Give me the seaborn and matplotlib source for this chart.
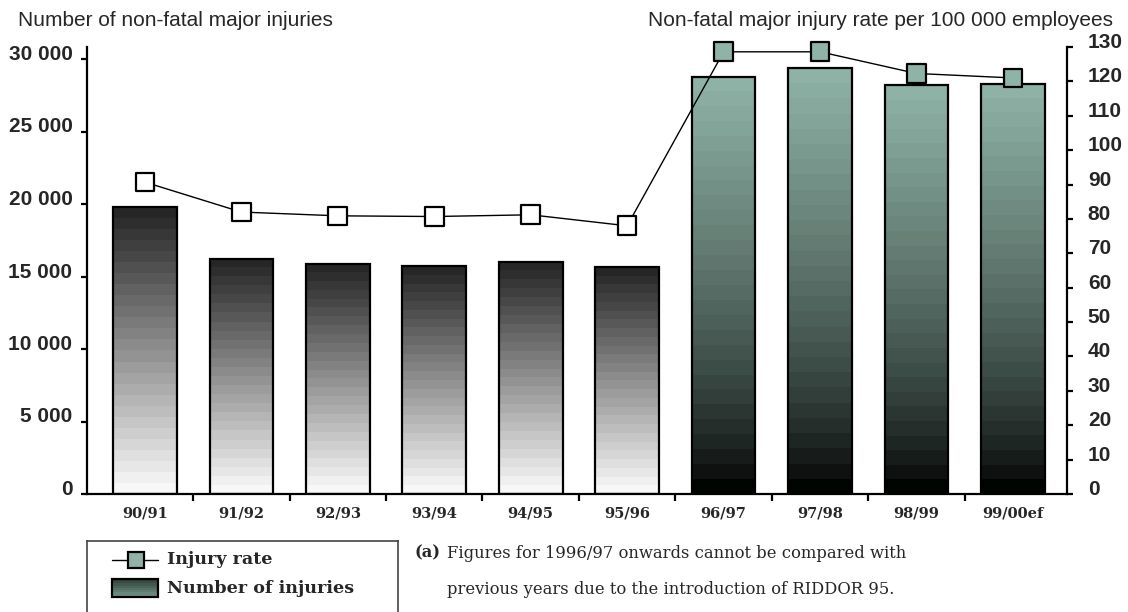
import numpy as np
import matplotlib
matplotlib.use("Agg")
import matplotlib.pyplot as plt
import seaborn as sns
import pandas as pd
from matplotlib.transforms import ScaledTranslation
from matplotlib.patches import Rectangle

# ---------------- data ----------------
years = ["90/91", "91/92", "92/93", "93/94", "94/95", "95/96",
         "96/97", "97/98", "98/99", "99/00ef"]
injuries = [19790, 16230, 15880, 15720, 16020, 15630, 28780, 29360, 28200, 28300]
rates = [90.7, 82.0, 80.9, 80.7, 81.2, 78.0, 128.6, 128.6, 122.3, 121.0]
period = ["pre", "pre", "pre", "pre", "pre", "pre", "post", "post", "post", "post"]
left_ticks = [0, 5000, 10000, 15000, 20000, 25000, 30000]
left_labels = ["0", "5 000", "10 000", "15 000", "20 000", "25 000", "30 000"]
right_ticks = [0, 10, 20, 30, 40, 50, 60, 70, 80, 90, 100, 110, 120, 130]
left_title = "Number of non-fatal major injuries"
right_title = "Non-fatal major injury rate per 100 000 employees"
legend_labels = ["Injury rate", "Number of injuries"]
note_lines = ["Figures for 1996/97 onwards cannot be compared with",
              "previous years due to the introduction of RIDDOR 95."]

df = pd.DataFrame({"year": years, "injuries": injuries, "rate": rates,
                   "period": period, "pos": np.arange(len(years))})

W, H = 1128, 612
DPI = 100
sns.set_theme(style="white")
plt.rcParams["font.family"] = ["Liberation Sans", "DejaVu Sans"]

fig = plt.figure(figsize=(W / DPI, H / DPI), dpi=DPI)
ax_left, ax_right, ax_bot, ax_top = 87, 1067, 494, 47
ax = fig.add_axes([ax_left / W, 1 - ax_bot / H, (ax_right - ax_left) / W, (ax_bot - ax_top) / H])

sage = np.array([0.56, 0.70, 0.65])

# bars
sns.barplot(data=df, x="year", y="injuries", ax=ax, width=0.66,
            color="white", edgecolor="black", linewidth=1.6, zorder=3)
xmin, xmax = -0.6, 9.56
ymax_left = 30000 * (ax_bot - ax_top) / (ax_bot - 59)
ax.set_xlim(xmin, xmax)
ax.set_ylim(0, ymax_left)

for i, patch in enumerate(ax.patches):
    x0, y0 = patch.get_x(), patch.get_y()
    w, h = patch.get_width(), patch.get_height()
    if period[i] == "pre":
        n = 26
        t = np.linspace(0, 1, n)  # 0 top -> 1 bottom
        g = 0.15 + (0.975 - 0.15) * t
        arr = np.stack([g, g, g], axis=1)[:, None, :]
    else:
        n = 28
        t = np.linspace(1, 0, n)  # fraction from bottom, top row first
        f = t ** 0.7
        arr = (sage[None, :] * f[:, None])[:, None, :]
        arr[-1, 0, :] = [0.0, 0.02, 0.01]
    patch.set_facecolor("none")
    im = ax.imshow(arr, extent=[x0, x0 + w, y0, y0 + h], origin="upper",
                   aspect="auto", interpolation="nearest", zorder=2)
    im.set_clip_path(patch)
ax.set_xlim(xmin, xmax)
ax.set_ylim(0, ymax_left)

# axes styling (left)
for s in ["top", "right"]:
    ax.spines[s].set_visible(False)
for s in ["left", "bottom"]:
    ax.spines[s].set_color("black")
    ax.spines[s].set_linewidth(1.6)
ax.set_yticks(left_ticks)
ax.set_yticklabels(left_labels, fontsize=15, fontweight="bold")
ax.tick_params(axis="y", direction="out", length=4, width=1.6, pad=6.5, color="black",
               left=True)
ax.set_xticks(np.arange(len(years)))
ax.set_xticklabels(years, fontsize=10.5, fontweight="bold", family="DejaVu Serif")
ax.tick_params(axis="x", length=0, pad=9)
ax.set_xticks(np.arange(len(years) - 1) + 0.5, minor=True)
ax.tick_params(axis="x", which="minor", direction="out", length=5, width=1.6,
               color="black", bottom=True)
ax.set_xlabel("")
ax.set_ylabel("")

# line on right axis
ax2 = ax.twinx()
ax2.set_position(ax.get_position())
sns.lineplot(data=df, x="pos", y="rate", ax=ax2, color="black", linewidth=1.0,
             zorder=4, legend=False)
sns.scatterplot(data=df, x="pos", y="rate", hue="period", ax=ax2, marker="s", s=180,
                palette={"pre": "white", "post": tuple(sage)}, edgecolor="black",
                linewidth=1.6, zorder=5, legend=False)
for art in ax2.collections + ax2.lines:
    art.set_clip_on(False)
ax2.set_ylim(0, 130)
ax2.set_xlim(xmin, xmax)
for s in ["top", "left", "bottom"]:
    ax2.spines[s].set_visible(False)
ax2.spines["right"].set_color("black")
ax2.spines["right"].set_linewidth(1.6)
ax2.set_yticks(right_ticks)
ax2.set_yticklabels([str(v) for v in right_ticks], fontsize=15, fontweight="bold")
ax2.tick_params(axis="y", direction="out", length=4, width=1.6, pad=11, color="black",
                right=True)
ax2.set_xlabel("")
ax2.set_ylabel("")
ax2.grid(False)
ax.grid(False)

# lift the y tick labels slightly above the ticks, as in the reference
off = ScaledTranslation(0, 6.5 / DPI, fig.dpi_scale_trans)
for lab in ax.get_yticklabels() + ax2.get_yticklabels():
    lab.set_transform(lab.get_transform() + off)

# axis titles
fig.text(18 / W, 1 - 20 / H, left_title, fontsize=15, ha="left", va="center")
fig.text(1113 / W, 1 - 20 / H, right_title, fontsize=15, ha="right", va="center")

# legend box
lx0, lx1, ly0 = 87, 398, 541
lax = fig.add_axes([lx0 / W, 0, (lx1 - lx0) / W, (H - ly0) / H])
lax.set_xlim(lx0, lx1)
lax.set_ylim(H, ly0)
lax.set_xticks([])
lax.set_yticks([])
lax.spines["bottom"].set_visible(False)
for s in ["top", "left", "right"]:
    lax.spines[s].set_color("#444444")
    lax.spines[s].set_linewidth(1.2)
lax.set_facecolor("white")
lax.plot([112, 158], [560, 560], color="black", lw=1.0)
lax.plot([135.5], [560], marker="s", ms=12, mfc=tuple(sage), mec="black", mew=1.6)
lax.text(167, 560, legend_labels[0], fontsize=12.6, fontweight="bold",
         family="DejaVu Serif", va="center", ha="left")
tl = np.linspace(0, 1, 8)
garr = (np.array([0.18, 0.26, 0.22])[None, :] * (1 - tl[:, None]) +
        np.array([0.45, 0.58, 0.53])[None, :] * tl[:, None])[:, None, :]
lax.imshow(garr, extent=[112, 158, 597, 579], aspect="auto", interpolation="nearest")
lax.add_patch(Rectangle((112, 579), 46, 18, fill=False, edgecolor="black", lw=1.6))
lax.set_xlim(lx0, lx1)
lax.set_ylim(H, ly0)
lax.text(167, 589, legend_labels[1], fontsize=12.6, fontweight="bold",
         family="DejaVu Serif", va="center", ha="left")

# note
fig.text(415 / W, 1 - 553 / H, "(a)", fontsize=11.8, fontweight="bold",
         family="DejaVu Serif", ha="left", va="center")
fig.text(447 / W, 1 - 553 / H, note_lines[0], fontsize=11.8,
         family="DejaVu Serif", ha="left", va="center")
fig.text(447 / W, 1 - 589 / H, note_lines[1], fontsize=11.8,
         family="DejaVu Serif", ha="left", va="center")

fig.savefig("out.png", dpi=DPI)
